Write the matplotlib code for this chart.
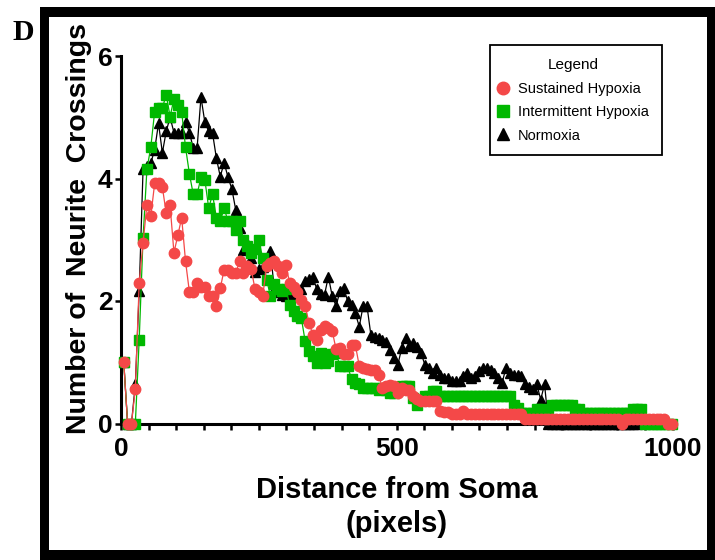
import matplotlib
matplotlib.use("Agg")
import matplotlib.pyplot as plt
from matplotlib import font_manager as fm
from matplotlib.lines import Line2D
from matplotlib.patches import Rectangle

# ---------------- data ----------------
distance = [5, 12, 19, 26, 33, 40, 47, 54, 61, 68, 75, 82, 89, 96, 103, 110, 117, 124, 131, 138,
            145, 152, 159, 166, 173, 180, 187, 194, 201, 208, 215, 222, 229, 236, 243, 250, 257, 264, 271, 278,
            285, 292, 299, 306, 313, 320, 327, 334, 341, 348, 355, 362, 369, 376, 383, 390, 397, 404, 411, 418,
            425, 432, 439, 446, 453, 460, 467, 474, 481, 488, 495, 502, 509, 516, 523, 530, 537, 544, 551, 558,
            565, 572, 579, 586, 593, 600, 607, 614, 621, 628, 635, 642, 649, 656, 663, 670, 677, 684, 691, 698,
            705, 712, 719, 726, 733, 740, 747, 754, 761, 768, 775, 782, 789, 796, 803, 810, 817, 824, 831, 838,
            845, 852, 859, 866, 873, 880, 887, 894, 901, 908, 915, 922, 929, 936, 943, 950, 957, 964, 971, 978,
            985, 992, 999]

sustained = [1.0, 0, 0, 0.57, 2.3, 2.95, 3.57, 3.38, 3.92, 3.93,
             3.86, 3.43, 3.56, 2.79, 3.07, 3.36, 2.65, 2.15, 2.14, 2.29,
             2.23, 2.23, 2.08, 2.08, 1.92, 2.21, 2.51, 2.50, 2.45, 2.45,
             2.65, 2.45, 2.57, 2.53, 2.19, 2.14, 2.08, 2.57, 2.62, 2.65,
             2.57, 2.45, 2.58, 2.29, 2.23, 2.15, 2.02, 1.92, 1.64, 1.45,
             1.37, 1.53, 1.59, 1.56, 1.51, 1.21, 1.23, 1.14, 1.14, 1.28,
             1.28, 0.94, 0.91, 0.89, 0.87, 0.87, 0.80, 0.58, 0.61, 0.63,
             0.62, 0.50, 0.58, 0.55, 0.55, 0.45, 0.40, 0.36, 0.36, 0.36,
             0.36, 0.36, 0.20, 0.18, 0.18, 0.15, 0.15, 0.15, 0.20, 0.15,
             0.15, 0.15, 0.15, 0.15, 0.15, 0.15, 0.15, 0.15, 0.15, 0.15,
             0.15, 0.15, 0.15, 0.15, 0.07, 0.07, 0.07, 0.07, 0.07, 0.07,
             0.07, 0.07, 0.07, 0.07, 0.07, 0.07, 0.07, 0.07, 0.07, 0.07,
             0.07, 0.07, 0.07, 0.07, 0.07, 0.07, 0.07, 0.07, 0.07, 0.0,
             0.07, 0.07, 0.07, 0.07, 0.07, 0.07, 0.07, 0.07, 0.07, 0.07,
             0.07, 0.0, 0.0]

intermittent = [1.0, 0, 0, 0, 1.37, 3.03, 4.15, 4.51, 5.09, 5.15,
                5.15, 5.37, 5.01, 5.30, 5.2, 5.09, 4.51, 4.08, 3.74, 3.74,
                4.02, 3.98, 3.52, 3.74, 3.36, 3.30, 3.52, 3.30, 3.30, 3.16,
                3.30, 3.0, 2.9, 2.78, 2.85, 2.99, 2.70, 2.35, 2.08, 2.27,
                2.2, 2.16, 2.19, 1.94, 1.83, 1.75, 1.72, 1.34, 1.18, 1.10,
                0.99, 1.15, 0.99, 1.02, 1.13, 1.15, 0.94, 0.94, 0.94, 0.72,
                0.66, 0.64, 0.58, 0.58, 0.58, 0.58, 0.55, 0.58, 0.55, 0.50,
                0.50, 0.55, 0.61, 0.61, 0.61, 0.42, 0.31, 0.38, 0.45, 0.45,
                0.53, 0.53, 0.45, 0.45, 0.45, 0.45, 0.45, 0.45, 0.45, 0.45,
                0.45, 0.45, 0.45, 0.45, 0.45, 0.45, 0.45, 0.45, 0.45, 0.45,
                0.45, 0.31, 0.25, 0.17, 0.17, 0.17, 0.17, 0.23, 0.23, 0.17,
                0.17, 0.31, 0.31, 0.31, 0.31, 0.31, 0.31, 0.23, 0.23, 0.17,
                0.17, 0.17, 0.17, 0.17, 0.17, 0.17, 0.17, 0.17, 0.17, 0.17,
                0.17, 0.17, 0.23, 0.23, 0.23, 0.0, 0.0, 0.0, 0.0, 0.0,
                0.0, 0.0, 0.0]

normoxia = [1.0, 0, 0, 0.64, 2.16, 4.15, 4.2, 4.25, 4.47, 4.9,
            4.42, 4.77, 5.0, 4.75, 4.74, 4.75, 4.93, 4.75, 4.5, 4.5,
            5.33, 4.92, 4.77, 4.74, 4.33, 4.03, 4.26, 4.02, 3.83, 3.49,
            3.2, 2.84, 2.95, 2.7, 2.48, 2.52, 2.56, 2.7, 2.81, 2.19,
            2.15, 2.1, 2.08, 2.08, 2.08, 2.10, 2.2, 2.32, 2.36, 2.40,
            2.19, 2.12, 2.10, 2.40, 2.08, 1.92, 2.16, 2.21, 2.0, 1.94,
            1.8, 1.58, 1.92, 1.92, 1.45, 1.41, 1.39, 1.37, 1.33, 1.2,
            1.07, 0.96, 1.23, 1.40, 1.26, 1.32, 1.25, 1.15, 0.96, 0.91,
            0.83, 0.91, 0.8, 0.74, 0.74, 0.69, 0.69, 0.69, 0.78, 0.83,
            0.74, 0.78, 0.85, 0.91, 0.91, 0.87, 0.83, 0.75, 0.66, 0.91,
            0.83, 0.80, 0.80, 0.77, 0.64, 0.60, 0.56, 0.64, 0.39, 0.64,
            0, 0, 0, 0, 0, 0, 0, 0, 0, 0,
            0, 0, 0, 0, 0, 0, 0, 0, 0, 0,
            0, 0, 0, 0]

labels = ["Sustained Hypoxia", "Intermittent Hypoxia", "Normoxia"]
x_ticks = [0, 500, 1000]
y_ticks = [0, 2, 4, 6]

# ---------------- styles ----------------
RED = "#f44848"
GREEN = "#00b800"
BLACK = "#000000"

names = {f.name for f in fm.fontManager.ttflist}
if "Liberation Sans Narrow" in names:
    narrow_family = "Liberation Sans Narrow"
    tick_size, xlab_size = 22, 24.5
else:
    narrow_family = "Liberation Sans"
    tick_size, xlab_size = 19, 21
sans = "Liberation Sans"

W, H = 715, 560
fig = plt.figure(figsize=(W / 100, H / 100), dpi=100)
fig.patch.set_facecolor("white")


def fx(px):
    return px / W


def fy(py):
    return 1 - py / H


ax = fig.add_axes([fx(121), fy(423.5), fx(672.5) - fx(121), fy(56) - fy(423.5)])

ax.plot(distance[:len(normoxia)], normoxia, color=BLACK, lw=0.9, marker="^", ms=7.5,
        mec=BLACK, mfc=BLACK, clip_on=False, zorder=3)
ax.plot(distance[:len(intermittent)], intermittent, color=GREEN, lw=0.9, marker="s", ms=7,
        mec=GREEN, mfc=GREEN, clip_on=False, zorder=4)
ax.plot(distance[:len(sustained)], sustained, color=RED, lw=0.9, marker="o", ms=7.5,
        mec=RED, mfc=RED, clip_on=False, zorder=5)

ax.set_xlim(0, 1000)
ax.set_ylim(0, 6)
ax.set_xticks(x_ticks)
ax.set_xticks(range(0, 1001, 50), minor=True)
ax.set_yticks(y_ticks)

for s in ["top", "right"]:
    ax.spines[s].set_visible(False)
for s in ["left", "bottom"]:
    ax.spines[s].set_linewidth(2.2)
    ax.spines[s].set_zorder(2)

ax.tick_params(axis="x", which="both", direction="out", length=4, width=1.8, pad=6)
ax.tick_params(axis="y", which="major", direction="out", length=4, width=1.8, pad=2)

for lab in ax.get_xticklabels() + ax.get_yticklabels():
    lab.set_fontfamily(narrow_family)
    lab.set_fontweight("bold")
    lab.set_fontsize(tick_size)

fig.text(fx(397), fy(490), "Distance from Soma", family=narrow_family, weight="bold",
         fontsize=xlab_size, ha="center", va="center")
fig.text(fx(397), fy(524), "(pixels)", family=narrow_family, weight="bold",
         fontsize=xlab_size, ha="center", va="center")

fig.text(fx(79), fy(228), "Number of  Neurite  Crossings", family=sans, weight="bold",
         fontsize=20.5, rotation=90, ha="center", va="center")

fig.text(fx(23), fy(32), "D", family="Liberation Serif", weight="bold", fontsize=21.5,
         ha="center", va="center")

# legend frame drawn explicitly (below the legend contents)
fig.add_artist(Rectangle((fx(490), fy(155)), fx(662) - fx(490), fy(45) - fy(155),
                         transform=fig.transFigure, facecolor="white", edgecolor="black",
                         linewidth=1.3, zorder=9))

handles = [
    Line2D([], [], linestyle="none", marker="o", ms=9, mfc=RED, mec=RED),
    Line2D([], [], linestyle="none", marker="s", ms=8.5, mfc=GREEN, mec=GREEN),
    Line2D([], [], linestyle="none", marker="^", ms=8.5, mfc=BLACK, mec=BLACK),
]
leg = fig.legend(handles, labels, title="Legend", loc="upper left",
                 bbox_to_anchor=(fx(498.6), fy(58.5)), bbox_transform=fig.transFigure,
                 borderaxespad=0, borderpad=0, frameon=False,
                 prop={"family": sans, "size": 10.5},
                 title_fontproperties={"family": sans, "size": 11},
                 handlelength=0.6, handletextpad=0.73, labelspacing=0.64)
leg.set_zorder(10)

# thick black frame around the panel
for (x0, y0, x1, y1) in [(40, 7, 49, 560), (40, 7, 715, 17), (707, 7, 715, 560), (40, 550, 715, 560)]:
    fig.add_artist(Rectangle((fx(x0), fy(y1)), fx(x1) - fx(x0), fy(y0) - fy(y1),
                             transform=fig.transFigure, facecolor="black", edgecolor="none",
                             zorder=11))

fig.savefig("out.png", dpi=100)
